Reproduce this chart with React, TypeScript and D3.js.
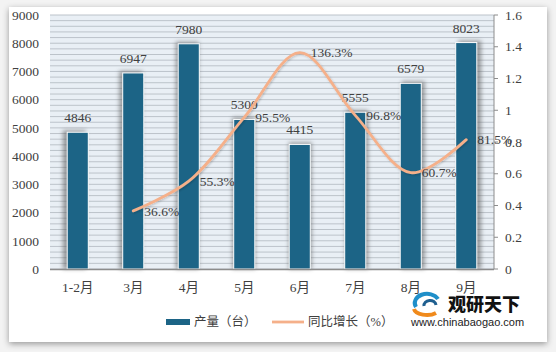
import React from "react";
import * as d3 from "d3";

const categories = ["1-2月", "3月", "4月", "5月", "6月", "7月", "8月", "9月"];
const output = [4846, 6947, 7980, 5300, 4415, 5555, 6579, 8023];
const growth: (number | null)[] = [null, 36.6, 55.3, 95.5, 136.3, 96.8, 60.7, 81.5];
const leftTicks = [0, 1000, 2000, 3000, 4000, 5000, 6000, 7000, 8000, 9000];
const rightTicks = [0, 0.2, 0.4, 0.6, 0.8, 1, 1.2, 1.4, 1.6];
const legendBar = "产量（台）";
const legendLine = "同比增长（%）";

const W = 556;
const H = 352;
const L = 50, R = 494, T = 15, B = 269;
const font = "'Liberation Serif', 'Noto Sans CJK SC', serif";
const textColor = "#404040";

export default function App() {
  const x = d3.scaleBand<string>().domain(categories).range([L, R]).paddingInner(0.62).paddingOuter(0.31);
  const yL = d3.scaleLinear().domain([0, 9000]).range([B, T]);
  const yR = d3.scaleLinear().domain([0, 1.6]).range([B, T]);
  const bw = x.bandwidth();
  const cx = (c: string) => (x(c) as number) + bw / 2;
  const mid = (L + R) / 2;

  const minor = d3.range(0, 9001, 200);
  const linePts = categories
    .map((c, i) => ({ c, v: growth[i] }))
    .filter((d) => d.v !== null) as { c: string; v: number }[];
  const lineGen = d3
    .line<{ c: string; v: number }>()
    .x((d) => cx(d.c))
    .y((d) => yR(d.v / 100))
    .curve(d3.curveCatmullRom.alpha(0.5));

  return (
    <svg width={W} height={H} style={{ position: "fixed", left: 0, top: 0 }} xmlns="http://www.w3.org/2000/svg">
      <defs>
        <filter id="panelShadow" x="-10%" y="-10%" width="120%" height="120%">
          <feDropShadow dx="0" dy="2" stdDeviation="3" floodColor="#000" floodOpacity="0.38" />
        </filter>
        <filter id="blur" x="-50%" y="-20%" width="200%" height="140%">
          <feGaussianBlur stdDeviation="2.2" />
        </filter>
        <filter id="lineShadow" x="-10%" y="-10%" width="120%" height="120%">
          <feDropShadow dx="1" dy="1" stdDeviation="1" floodColor="#000" floodOpacity="0.2" />
        </filter>
      </defs>
      <rect x={0} y={0} width={W} height={H} fill="#f3f3f3" />
      <rect x={9} y={7} width={538} height={335} fill="#ffffff" filter="url(#panelShadow)" />

      {/* plot background */}
      <rect x={L} y={T} width={R - L} height={B - T} fill="#e9eff5" />
      {minor.map((v) => (
        <line key={v} x1={L} x2={R} y1={yL(v)} y2={yL(v)} stroke="#bcc3ca" strokeWidth={1} />
      ))}

      {/* bar shadows */}
      {categories.map((c, i) => {
        const dx = ((cx(c) - mid) / (R - mid)) * 4;
        return (
          <rect
            key={"s" + c}
            x={(x(c) as number) + dx - 1}
            y={yL(output[i]) - 2}
            width={bw + 2}
            height={B - yL(output[i]) + 2}
            fill="#555"
            opacity={0.55}
            filter="url(#blur)"
          />
        );
      })}
      {/* bars */}
      {categories.map((c, i) => (
        <rect
          key={"b" + c}
          x={x(c)}
          y={yL(output[i])}
          width={bw}
          height={B - yL(output[i])}
          fill="#1c6486"
          stroke="#ffffff"
          strokeWidth={1}
        />
      ))}

      {/* axes */}
      <line x1={L} x2={R} y1={B + 0.5} y2={B + 0.5} stroke="#8c8c8c" strokeWidth={1.5} />
      <line x1={R} x2={R} y1={T} y2={B} stroke="#8c8c8c" strokeWidth={1} />
      {rightTicks.map((t) => (
        <line key={"rt" + t} x1={R} x2={R + 4} y1={yR(t)} y2={yR(t)} stroke="#8c8c8c" strokeWidth={1} />
      ))}
      {leftTicks.map((t) => (
        <text key={"lt" + t} x={39} y={yL(t)} dy="0.35em" textAnchor="end" fontFamily={font} fontSize={13.5} fill={textColor}>
          {t}
        </text>
      ))}
      {rightTicks.map((t) => (
        <text key={"rl" + t} x={505} y={yR(t)} dy="0.35em" textAnchor="start" fontFamily={font} fontSize={13.5} fill={textColor}>
          {String(+t.toFixed(1))}
        </text>
      ))}
      {categories.map((c) => (
        <text key={"xl" + c} x={cx(c)} y={287} dy="0.35em" textAnchor="middle" fontFamily={font} fontSize={13.5} fill={textColor}>
          {c}
        </text>
      ))}

      {/* bar labels */}
      {categories.map((c, i) => (
        <text key={"bl" + c} x={cx(c)} y={yL(output[i]) - 10} textAnchor="middle" fontFamily={font} fontSize={13.5} fill={textColor}>
          {output[i]}
        </text>
      ))}

      {/* line */}
      <path d={lineGen(linePts) || ""} fill="none" stroke="#f5b08a" strokeWidth={2.8} strokeLinecap="round" filter="url(#lineShadow)" />
      {linePts.map((d) => (
        <text key={"ll" + d.c} x={cx(d.c) + 11} y={yR(d.v / 100)} dy="0.35em" textAnchor="start" fontFamily={font} fontSize={13.5} fill={textColor}>
          {d.v.toFixed(1) + "%"}
        </text>
      ))}

      {/* legend */}
      <rect x={166} y={319} width={24} height={6} fill="#1c6486" />
      <text x={194} y={322} dy="0.35em" fontFamily={font} fontSize={12.5} fill={textColor}>
        {legendBar}
      </text>
      <line x1={272} x2={304} y1={322} y2={322} stroke="#f5b08a" strokeWidth={2.8} />
      <text x={308} y={322} dy="0.35em" fontFamily={font} fontSize={12.5} fill={textColor}>
        {legendLine}
      </text>

      {/* watermark */}
      <g>
        <path d="M416 307 A12 9 0 0 1 438 299" fill="none" stroke="#1f8fc9" strokeWidth={4} />
        <path d="M414 309 A13 7 0 0 0 436 313" fill="none" stroke="#f08a1c" strokeWidth={4} />
        <path d="M424 306 A6 5 0 0 1 436 305" fill="none" stroke="#1f5f8f" strokeWidth={3} />
        <text x={448} y={305} dy="0.35em" fontFamily="'Noto Sans CJK SC', sans-serif" fontWeight={900} fontSize={18} fill="#111">
          观研天下
        </text>
        <text x={411} y={325.5} fontFamily="'Liberation Sans', Arial, sans-serif" fontSize={11} fill="#222">
          www.chinabaogao.com
        </text>
      </g>
    </svg>
  );
}
